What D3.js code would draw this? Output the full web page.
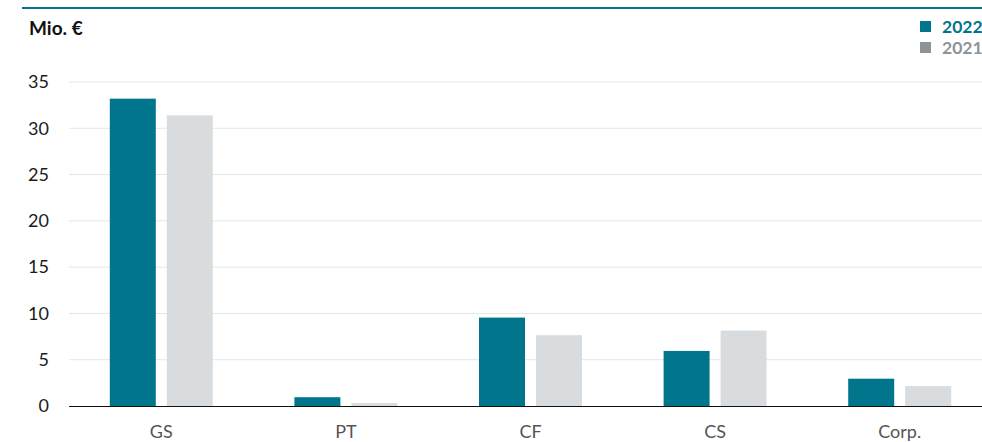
<!DOCTYPE html>
<html><head><meta charset="utf-8">
<script src="https://cdn.jsdelivr.net/npm/d3@7"></script>
<style>
html,body{margin:0;padding:0;background:#fff;overflow:hidden}
text{font-family:Lato,"Open Sans",sans-serif}
</style></head>
<body>
<svg id="c" width="982" height="442"></svg>
<script>
const categories = ["GS","PT","CF","CS","Corp."];
const series = ["2022","2021"];
const values2022 = [33.2, 0.95, 9.55, 5.95, 2.95];
const values2021 = [31.4, 0.32, 7.65, 8.15, 2.15];
const yTicks = [0,5,10,15,20,25,30,35];
const unitLabel = "Mio. €";

const colors = {"2022":"#00758C","2021":"#D9DCDF"};
const legendColors = {"2022":"#00758C","2021":"#8C9399"};

const svg = d3.select("#c");
const x0 = 69, x1 = 992, yTop = 82, yBot = 406;

const x = d3.scaleBand().domain(categories).range([x0, x1]).paddingInner(0).paddingOuter(0);
const y = d3.scaleLinear().domain([0,35]).range([yBot, yTop]);
const barW = 46, gap = 11;
const xs = d3.scaleOrdinal().domain(series).range([-(barW+gap/2), gap/2]);

// top rule
svg.append("line").attr("x1",22).attr("x2",982).attr("y1",8).attr("y2",8)
  .attr("stroke","#00758C").attr("stroke-width",2);

svg.append("text").attr("x",29).attr("y",34.5).attr("font-weight","bold")
  .attr("font-size",19).attr("fill","#111").text(unitLabel);

// grid
svg.append("g").selectAll("line").data(yTicks.filter(d=>d>0)).join("line")
  .attr("x1",x0).attr("x2",982).attr("y1",d=>y(d)).attr("y2",d=>y(d))
  .attr("stroke","#E3E7E8").attr("stroke-width",1);

// y axis labels
const ya = svg.append("g").attr("transform",`translate(${x0},0)`)
  .call(d3.axisLeft(y).tickValues(yTicks).tickSize(0).tickPadding(20));
ya.select(".domain").remove();
ya.selectAll("text").attr("font-family","Lato, sans-serif").attr("font-size",18).attr("fill","#1a1a1a");

// bars
const data = categories.map((c,i)=>({c, v:{"2022":values2022[i],"2021":values2021[i]}}));
const g = svg.append("g");
data.forEach(d=>{
  series.forEach(s=>{
    g.append("rect")
      .attr("x", x(d.c)+x.bandwidth()/2 + xs(s))
      .attr("y", y(d.v[s]))
      .attr("width", barW)
      .attr("height", y(0)-y(d.v[s]))
      .attr("fill", colors[s]);
  });
});

// x axis
const xa = svg.append("g").attr("transform",`translate(0,${yBot})`)
  .call(d3.axisBottom(x).tickSize(0).tickPadding(19));
xa.select(".domain").remove();
xa.selectAll("text").attr("font-family","Lato, sans-serif").attr("font-size",18).attr("fill","#555");
svg.append("line").attr("x1",x0).attr("x2",982).attr("y1",yBot+0.5).attr("y2",yBot+0.5)
  .attr("stroke","#111").attr("stroke-width",1.2);

// legend
const lg = svg.append("g");
series.forEach((s,i)=>{
  lg.append("rect").attr("x",920).attr("y",21+i*21).attr("width",11).attr("height",11).attr("fill",legendColors[s]);
  lg.append("text").attr("x",942).attr("y",33+i*21).attr("font-weight","bold").attr("font-size",17.5)
    .attr("fill",legendColors[s]).text(s);
});
</script>
</body></html>
